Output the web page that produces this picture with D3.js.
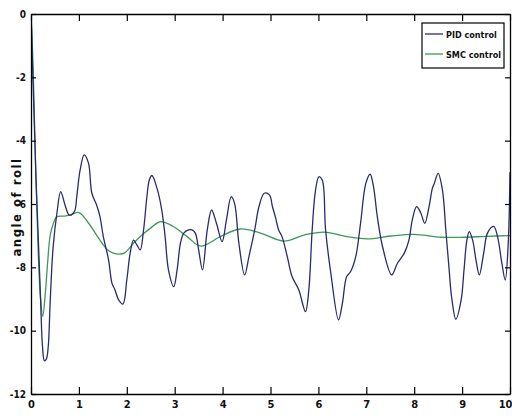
<!DOCTYPE html>
<html><head><meta charset="utf-8">
<script src="https://cdn.jsdelivr.net/npm/d3@7"></script>
<style>body{margin:0;background:#fff}svg{display:block}</style>
</head><body>
<script>
const xTicks = [0,1,2,3,4,5,6,7,8,9,10];
const yTicks = [0,-2,-4,-6,-8,-10,-12];
const seriesNames = ["PID control","SMC control"];
const pidT = [0,0.02,0.06,0.1,0.15,0.2,0.24,0.28,0.32,0.36,0.40,0.46,0.54,0.62,0.71,0.80,0.906,0.955,1.025,1.11,1.20,1.27,1.37,1.44,1.51,1.62,1.69,1.75,1.83,1.92,2.0,2.07,2.14,2.21,2.28,2.35,2.42,2.47,2.525,2.63,2.73,2.80,2.87,2.98,3.05,3.12,3.19,3.29,3.36,3.43,3.50,3.58,3.68,3.77,3.87,3.99,4.08,4.18,4.25,4.34,4.46,4.55,4.67,4.76,4.87,4.98,5.04,5.10,5.17,5.24,5.35,5.45,5.59,5.73,5.80,5.87,5.94,6.01,6.08,6.15,6.26,6.42,6.50,6.59,6.67,6.78,6.88,6.99,7.08,7.15,7.23,7.34,7.53,7.65,7.79,7.89,7.96,8.05,8.14,8.22,8.31,8.38,8.42,8.50,8.59,8.66,8.73,8.78,8.87,8.98,9.04,9.10,9.15,9.22,9.29,9.36,9.45,9.53,9.66,9.74,9.83,9.90,9.96,10.0];
const pidV = [0,-1,-3,-5,-7,-9,-10.5,-10.95,-10.9,-10.5,-9.1,-7.4,-6.3,-5.61,-6.03,-6.35,-6.24,-5.77,-4.93,-4.45,-4.71,-5.66,-6.03,-6.4,-7.03,-7.77,-8.5,-8.7,-9.03,-9.16,-8.4,-7.55,-7.14,-7.29,-7.45,-6.82,-5.77,-5.24,-5.1,-5.5,-6.19,-7.03,-8.08,-8.61,-8.08,-7.24,-6.92,-6.82,-6.82,-6.92,-7.45,-8.08,-6.82,-6.19,-6.6,-7.19,-6.5,-5.77,-5.98,-7.24,-8.24,-7.66,-6.82,-6.08,-5.66,-5.72,-6.08,-6.4,-6.82,-7.03,-7.66,-8.29,-8.71,-9.4,-8.71,-6.82,-5.56,-5.14,-5.24,-6.82,-8.19,-9.66,-9.14,-8.29,-8.14,-7.66,-6.61,-5.35,-5.06,-5.45,-6.4,-7.35,-8.24,-7.87,-7.56,-7.14,-6.5,-6.08,-6.29,-6.61,-6.08,-5.5,-5.35,-5.03,-5.56,-6.82,-8.08,-8.93,-9.64,-9.03,-8.08,-7.14,-6.87,-7.14,-7.77,-8.24,-7.56,-6.92,-6.71,-7.03,-7.87,-8.4,-7.35,-5.0];
const smcT = [0,0.02,0.05,0.1,0.15,0.2,0.245,0.3,0.35,0.4,0.47,0.54,0.7,0.85,1.0,1.2,1.44,1.6,1.72,1.85,1.95,2.14,2.3,2.49,2.7,2.97,3.26,3.54,3.95,4.37,4.79,5.28,5.70,6.12,6.6,7.02,7.51,8.0,8.56,9.04,9.5,10.0];
const smcV = [0,-0.6,-2,-5,-7.5,-9,-9.55,-8.8,-7.8,-7.0,-6.6,-6.4,-6.38,-6.33,-6.27,-6.6,-7.14,-7.45,-7.55,-7.58,-7.55,-7.24,-7.0,-6.77,-6.56,-6.71,-7.03,-7.33,-7.03,-6.79,-6.92,-7.17,-6.98,-6.89,-7.03,-7.1,-7.01,-6.96,-7.05,-7.05,-7.02,-7.0];
const colors = ["#2a2a70","#3c9a52"];

const W=512,H=416;
const x = d3.scaleLinear().domain([0,10]).range([31,510]);
const y = d3.scaleLinear().domain([-12,0]).range([394,14]);
const svg = d3.select("body").append("svg").attr("width",W).attr("height",H);
const font = "'Liberation Sans Narrow','DejaVu Sans Condensed','Liberation Sans',sans-serif";

svg.append("clipPath").attr("id","c").append("rect")
  .attr("x",31).attr("y",14).attr("width",479).attr("height",380);

const line = d3.line().x(d=>x(d[0])).y(d=>y(d[1])).curve(d3.curveCatmullRom);
const pid = pidT.map((t,i)=>[t,pidV[i]]);
const smc = smcT.map((t,i)=>[t,smcV[i]]);
const g = svg.append("g").attr("clip-path","url(#c)");
g.append("path").datum(smc).attr("d",line).attr("fill","none").attr("stroke",colors[1]).attr("stroke-width",1.3);
g.append("path").datum(pid).attr("d",line).attr("fill","none").attr("stroke",colors[0]).attr("stroke-width",1.3);

const ax = (gen, tr) => {
  const a = svg.append("g").attr("transform",tr).call(gen);
  a.select(".domain").attr("stroke","#000").attr("stroke-width",1.3);
  a.selectAll(".tick line").attr("stroke","#000").attr("stroke-width",1.2);
  a.selectAll("text").attr("font-family",font).attr("font-weight","bold").attr("fill","#111");
  return a;
};
const bx = ax(d3.axisBottom(x).tickValues(xTicks).tickSize(-7).tickSizeOuter(0).tickPadding(6).tickFormat(d3.format("d")), "translate(0,394)");
bx.selectAll("text").attr("font-size",11);
bx.selectAll(".tick").filter(d=>d===10).select("text").attr("text-anchor","end").attr("x",2);
ax(d3.axisTop(x).tickValues(xTicks).tickSize(-7).tickSizeOuter(0).tickFormat(""), "translate(0,14)");
const ly = ax(d3.axisLeft(y).tickValues(yTicks).tickSize(-5).tickSizeOuter(0).tickPadding(5).tickFormat(d=>String(d)), "translate(31,0)");
ly.selectAll("text").attr("font-size",10);
ax(d3.axisRight(y).tickValues(yTicks).tickSize(-5).tickSizeOuter(0).tickFormat(""), "translate(510,0)");

svg.append("text").attr("transform","translate(21,207) rotate(-90)")
  .attr("text-anchor","middle").attr("font-family",font).attr("font-weight","bold")
  .attr("font-size",13).attr("letter-spacing",1.5).attr("fill","#111").text("angle of roll");

const lg = svg.append("g");
lg.append("rect").attr("x",422).attr("y",23).attr("width",82).attr("height",45)
  .attr("fill","#fff").attr("stroke","#000").attr("stroke-width",1.2);
seriesNames.forEach((n,i)=>{
  const yy = 34 + i*20;
  lg.append("line").attr("x1",425).attr("x2",443).attr("y1",yy).attr("y2",yy)
    .attr("stroke",colors[i]).attr("stroke-width",1.3);
  lg.append("text").attr("x",446).attr("y",yy+3.5).attr("font-family",font)
    .attr("font-weight","bold").attr("font-size",9).attr("fill","#111").text(n);
});
</script>
</body></html>
